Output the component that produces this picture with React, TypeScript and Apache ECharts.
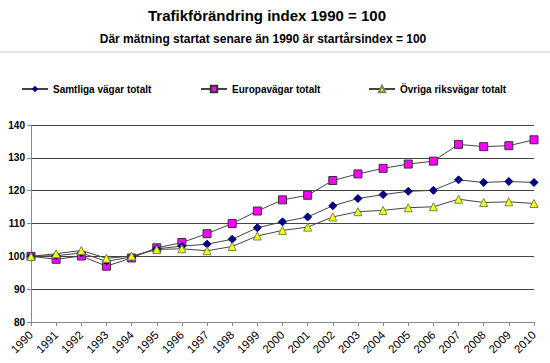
import React, { useEffect, useRef } from "react";
import * as echarts from "echarts";

const years = ["1990","1991","1992","1993","1994","1995","1996","1997","1998","1999","2000","2001","2002","2003","2004","2005","2006","2007","2008","2009","2010"];
const samtliga = [100, 100.2, 101.0, 98.5, 99.8, 102.3, 103.1, 103.7, 105.2, 108.7, 110.5, 112.0, 115.4, 117.6, 118.8, 119.8, 120.1, 123.3, 122.5, 122.8, 122.5];
const europa = [100, 99.1, 100.1, 97.0, 99.5, 102.6, 104.2, 106.9, 110.0, 113.8, 117.2, 118.6, 123.1, 125.1, 126.8, 128.1, 129.0, 134.1, 133.4, 133.7, 135.5];
const ovriga = [100, 100.8, 101.8, 99.4, 100.1, 102.1, 102.3, 101.7, 103.0, 106.2, 107.9, 108.9, 112.0, 113.6, 114.0, 114.8, 115.1, 117.4, 116.4, 116.6, 116.1];
const seriesNames = ["Samtliga vägar totalt", "Europavägar totalt", "Övriga riksvägar totalt"];

const FONT = "Liberation Sans, Arial, Helvetica, sans-serif";

export default function App() {
  const ref = useRef<HTMLDivElement>(null);
  useEffect(() => {
    const chart = echarts.init(ref.current!, null, { renderer: "svg" });
    const lineStyle = { color: "#444", width: 1 };
    const legendLefts = [16, 195, 363];
    chart.setOption({
      animation: false,
      backgroundColor: "#fff",
      textStyle: { fontFamily: FONT },
      title: [
        { text: "Trafikförändring index 1990 = 100", left: 262, textAlign: "center", top: 3, textStyle: { fontSize: 15, fontWeight: "bold", color: "#000", fontFamily: FONT } },
        { text: "Där mätning startat senare än 1990 är startårsindex = 100", left: 258, textAlign: "center", top: 28, textStyle: { fontSize: 12, fontWeight: "bold", color: "#000", fontFamily: FONT } },
      ],
      graphic: [
        { type: "line", shape: { x1: 0, y1: 52, x2: 550, y2: 52 }, style: { stroke: "#ccc", lineWidth: 1 } },
      ],
      legend: seriesNames.map((n, i) => ({
        left: legendLefts[i],
        top: 79,
        itemWidth: 26,
        itemHeight: 8,
        itemGap: 4,
        textStyle: { fontSize: 10, fontWeight: "bold", color: "#000", fontFamily: FONT },
        data: [n],
      })),
      grid: { left: 31, right: 16, top: 125, bottom: 41 },
      xAxis: {
        type: "category",
        data: years,
        boundaryGap: false,
        axisLine: { lineStyle: { color: "#888" } },
        axisTick: { show: true, alignWithLabel: true, length: 4, lineStyle: { color: "#888" } },
        axisLabel: { rotate: 45, fontSize: 11.5, color: "#000", margin: 11, fontFamily: FONT, interval: 0 },
      },
      yAxis: {
        type: "value",
        min: 80,
        max: 140,
        interval: 10,
        axisLine: { show: true, lineStyle: { color: "#888" } },
        axisTick: { show: true, length: 4, lineStyle: { color: "#888" } },
        axisLabel: { fontSize: 10, color: "#000", fontWeight: "bold", margin: 6, fontFamily: FONT },
        splitLine: { lineStyle: { color: "#444", width: 1 } },
      },
      series: [
        {
          name: seriesNames[0], type: "line", data: samtliga, symbol: "diamond", symbolSize: 8,
          lineStyle, itemStyle: { color: "#000080", borderColor: "#000080" }, z: 3,
        },
        {
          name: seriesNames[1], type: "line", data: europa, symbol: "rect", symbolSize: 8,
          lineStyle, itemStyle: { color: "#ff00ff", borderColor: "#333", borderWidth: 1 }, z: 2,
        },
        {
          name: seriesNames[2], type: "line", data: ovriga, symbol: "triangle", symbolSize: 8,
          lineStyle, itemStyle: { color: "#ffff00", borderColor: "#6a8a5a", borderWidth: 1 }, z: 4,
        },
      ],
    });
    return () => chart.dispose();
  }, []);
  return <div ref={ref} style={{ width: 550, height: 363, position: "absolute", left: 0, top: 0 }} />;
}
